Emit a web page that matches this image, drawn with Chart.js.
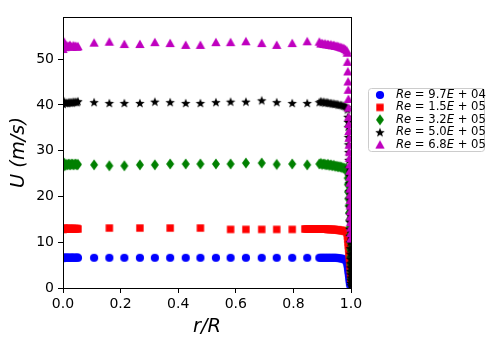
<!DOCTYPE html>
<html><head><meta charset="utf-8">
<script src="https://cdn.jsdelivr.net/npm/chart.js@4/dist/chart.umd.min.js"></script>
<style>html,body{margin:0;padding:0;background:#fff;}canvas{display:block;}</style>
</head><body>
<canvas id="c" width="500" height="340"></canvas>
<script>
// ---------- DATA ----------
const reLabels = ['9.7', '1.5', '3.2', '5.0', '6.8'];
const reExps = ['04', '05', '05', '05', '05'];
const xTicks = [0, 0.2, 0.4, 0.6, 0.8, 1.0];
const yTicks = [0, 10, 20, 30, 40, 50];

const rCenter = [0.000,0.004,0.008,0.012,0.016,0.020,0.024,0.028,0.032,0.036,0.040,0.044,0.048,0.052];
const rSparse = [0.108,0.161,0.213,0.267,0.319,0.372,0.426,0.477,0.531,0.582,0.635,0.690,0.742,0.796,0.848];
const rSparseRed = [0.161,0.267,0.372,0.477,0.582,0.635,0.690,0.742,0.796];
const rOuter = [0.890,0.895,0.900,0.905,0.910,0.915,0.920,0.925,0.930,0.935,0.940,0.945,0.950,0.955,0.960,0.965,0.970,0.975,0.980,0.985];
const rOuterRed = [0.840,0.845,0.850,0.855,0.860,0.865,0.870,0.875,0.880,0.885,0.890,0.895,0.900,0.905,0.910,0.915,0.920,0.925,0.930,0.935,0.940,0.945,0.950,0.955,0.960,0.965,0.970,0.975,0.980,0.985];

// Re = 9.7E+04 (blue)
const blueCenterU = [6.5,6.7,6.6,6.6,6.7,6.6,6.6,6.6,6.7,6.6,6.6,6.6,6.7,6.6];
const blueSparseU = [6.6,6.6,6.6,6.6,6.6,6.6,6.6,6.6,6.6,6.6,6.6,6.6,6.6,6.6,6.6];
const blueOuterU = [6.6,6.6,6.6,6.6,6.6,6.6,6.6,6.6,6.6,6.6,6.6,6.6,6.6,6.55,6.5,6.45,6.4,6.3,6.1,5.8];
const blueWallR = [0.987,0.988,0.989,0.990,0.991,0.992,0.993,0.994,0.995,0.996,0.997];
const blueWallU = [5.4,5.0,4.6,4.1,3.6,3.1,2.6,2.1,1.6,1.1,0.6];

// Re = 1.5E+05 (red)
const redCenterU = [12.8,13.1,12.9,13.0,12.9,13.0,13.0,12.9,13.0,12.9,13.0,12.9,13.0,12.9];
const redSparseU = [13.1,13.1,13.1,13.1,12.8,12.8,12.8,12.8,12.8];
const redOuterU = [12.9,12.9,12.9,12.9,12.9,12.9,12.9,12.9,12.9,12.9,12.9,12.9,12.9,12.9,12.9,12.9,12.8,12.8,12.8,12.8,12.8,12.7,12.7,12.7,12.6,12.6,12.5,12.5,12.4,12.3];
const redWallR = [0.987,0.988,0.989,0.990,0.991,0.992,0.993,0.994,0.995,0.996,0.997,0.998,0.999,1.000];
const redWallU = [12.0,11.4,10.7,10.0,9.3,8.6,7.9,7.2,6.5,5.7,4.9,4.0,3.0,2.0];

// Re = 3.2E+05 (green)
const greenCenterU = [26.4,27.3,26.8,27.0,26.9,27.1,26.9,27.0,27.1,26.9,27.0,27.1,26.9,27.0];
const greenSparseU = [26.9,26.7,26.7,26.9,26.9,27.1,27.1,27.1,27.1,27.1,27.3,27.3,27.0,27.1,26.9];
const greenOuterU = [27.1,27.2,27.0,27.1,27.0,26.9,27.0,26.8,26.9,26.7,26.8,26.6,26.6,26.5,26.5,26.4,26.3,26.2,26.1,26.0];
const greenWallR = [0.988,0.9885,0.989,0.990,0.991,0.992,0.993,0.994,0.995,0.996,0.997,0.9975,0.998,0.9985,0.999,1.000];
const greenWallU = [25.2,24.0,22.6,21.0,19.5,18.0,16.4,14.8,13.2,11.6,10.0,8.4,6.8,5.2,3.6,2.0];

// Re = 5.0E+05 (black)
const blackCenterU = [40.2,40.8,40.4,40.5,40.4,40.6,40.5,40.6,40.5,40.7,40.6,40.7,40.6,40.8];
const blackSparseU = [40.6,40.4,40.4,40.4,40.7,40.6,40.4,40.4,40.6,40.7,40.7,41.0,40.6,40.4,40.4];
const blackOuterU = [40.6,40.8,40.6,40.7,40.5,40.6,40.5,40.4,40.4,40.3,40.3,40.2,40.2,40.1,40.0,40.0,39.9,39.8,39.7,39.5];
const blackWallR = [0.988,0.989,0.990,0.9905,0.991,0.9915,0.992,0.9925,0.993,0.9935,0.994,0.9945,0.995,0.9955,0.996,0.9963,0.9966,0.9969,0.9972,0.9975,0.9978,0.9981,0.9984,0.9987,0.999,0.9992,0.9994,0.9996,0.9998,1.000];
const blackWallU = [39.0,37.4,36.3,35.2,33.0,31.4,29.7,28.0,26.3,24.6,22.9,21.2,19.5,17.8,16.1,14.5,12.9,11.4,10.0,8.7,7.5,6.4,5.4,4.5,3.7,3.0,2.3,1.7,1.1,0.6];

// Re = 6.8E+05 (magenta)
const magCenterU = [52.2,53.8,52.6,53.0,52.8,52.9,53.1,52.8,52.7,53.0,52.8,52.9,52.7,52.8];
const magSparseU = [53.6,53.8,53.3,53.3,53.7,53.5,53.1,53.1,53.7,53.7,53.9,53.5,53.1,53.5,53.9];
const magOuterU = [53.8,53.4,53.5,53.3,53.4,53.2,53.3,53.1,53.2,53.0,53.1,52.9,52.9,52.8,52.7,52.6,52.5,52.4,52.2,51.9];
const magWallR = [0.987,0.988,0.989,0.990,0.9905,0.991,0.9915,0.992,0.9925,0.993,0.9935,0.994,0.9945,0.995,0.9955,0.996,0.9963,0.9966,0.9969,0.9972,0.9975,0.9978,0.9981,0.9984,0.9987,0.999,0.9993,0.9996];
const magWallU = [51.4,49.4,47.3,45.1,43.3,41.3,39.4,37.4,35.8,34.3,32.8,31.3,29.8,28.4,27.0,25.6,24.3,23.0,21.7,20.4,19.2,18.0,16.8,15.6,14.4,13.2,12.0,10.8];

// ---------- helpers ----------
function pts(rs, us) { return rs.map((r, i) => ({x: r, y: us[i]})); }
function series(parts) { return parts.reduce((a, p) => a.concat(pts(p[0], p[1])), []); }

function marker(shape, color) {
  const c = document.createElement('canvas');
  c.width = 14; c.height = 14;
  const g = c.getContext('2d');
  g.fillStyle = color; g.strokeStyle = color; g.lineWidth = 1;
  const cx = 7, cy = 7;
  g.beginPath();
  if (shape === 'circle') {
    g.arc(cx, cy, 4.1, 0, Math.PI * 2);
  } else if (shape === 'square') {
    g.rect(cx - 3.7, cy - 3.7, 7.4, 7.4);
  } else if (shape === 'thin_diamond') {
    g.moveTo(cx, cy - 5.4); g.lineTo(cx + 4.0, cy); g.lineTo(cx, cy + 5.4); g.lineTo(cx - 4.0, cy);
    g.closePath();
  } else if (shape === 'star') {
    const R = 5.0, r = R * 0.42;
    for (let k = 0; k < 10; k++) {
      const rad = (k % 2 === 0) ? R : r;
      const a = -Math.PI / 2 + k * Math.PI / 5;
      const px = cx + rad * Math.cos(a), py = cy + 0.5 + rad * Math.sin(a);
      if (k === 0) g.moveTo(px, py); else g.lineTo(px, py);
    }
    g.closePath();
  } else if (shape === 'triangle') {
    g.moveTo(cx, cy - 4.5); g.lineTo(cx + 4.7, cy + 4.0); g.lineTo(cx - 4.7, cy + 4.0);
    g.closePath();
  }
  g.fill();
  return c;
}

const colors = ['#0000ff', '#ff0000', '#008000', '#000000', '#bf00bf'];
const shapes = ['circle', 'square', 'thin_diamond', 'star', 'triangle'];
const markers = shapes.map((s, i) => marker(s, colors[i]));

const seriesData = [
  series([[rCenter, blueCenterU], [rSparse, blueSparseU], [rOuter, blueOuterU], [blueWallR, blueWallU]]),
  series([[rCenter, redCenterU], [rSparseRed, redSparseU], [rOuterRed, redOuterU], [redWallR, redWallU]]),
  series([[rCenter, greenCenterU], [rSparse, greenSparseU], [rOuter, greenOuterU], [greenWallR, greenWallU]]),
  series([[rCenter, blackCenterU], [rSparse, blackSparseU], [rOuter, blackOuterU], [blackWallR, blackWallU]]),
  series([[rCenter, magCenterU], [rSparse, magSparseU], [rOuter, magOuterU], [magWallR, magWallU]])
];

Chart.defaults.font.family = "'DejaVu Sans', sans-serif";
Chart.defaults.color = '#000';

const datasets = seriesData.map((d, i) => ({
  label: 'Re = ' + reLabels[i] + 'E + ' + reExps[i],
  data: d,
  showLine: false,
  pointStyle: markers[i],
  pointRadius: 4,
  pointHoverRadius: 4,
  backgroundColor: colors[i],
  borderColor: colors[i],
  clip: 0,
  order: 5 - i
}));

const framePlugin = {
  id: 'frame',
  afterDatasetsDraw(chart) {
    const {ctx, chartArea: a} = chart;
    ctx.save();
    ctx.strokeStyle = '#000';
    ctx.lineWidth = 1;
    ctx.strokeRect(Math.round(a.left) + 0.5, Math.round(a.top) + 0.5,
                   Math.round(a.right - a.left), Math.round(a.bottom - a.top));
    ctx.restore();
  }
};

const legendPlugin = {
  id: 'mplLegend',
  afterDraw(chart) {
    const ctx = chart.ctx;
    const x0 = 368.5, y0 = 88.5, w = 116, h = 63, rad = 3;
    ctx.save();
    ctx.beginPath();
    ctx.moveTo(x0 + rad, y0);
    ctx.lineTo(x0 + w - rad, y0); ctx.arcTo(x0 + w, y0, x0 + w, y0 + rad, rad);
    ctx.lineTo(x0 + w, y0 + h - rad); ctx.arcTo(x0 + w, y0 + h, x0 + w - rad, y0 + h, rad);
    ctx.lineTo(x0 + rad, y0 + h); ctx.arcTo(x0, y0 + h, x0, y0 + h - rad, rad);
    ctx.lineTo(x0, y0 + rad); ctx.arcTo(x0, y0, x0 + rad, y0, rad);
    ctx.closePath();
    ctx.fillStyle = 'rgba(255,255,255,0.8)';
    ctx.fill();
    ctx.strokeStyle = '#cccccc';
    ctx.lineWidth = 1;
    ctx.stroke();
    const fs = 11.6;
    const it = 'italic ' + fs + "px 'DejaVu Sans'";
    const rg = fs + "px 'DejaVu Sans'";
    ctx.textBaseline = 'middle';
    ctx.fillStyle = '#000';
    for (let i = 0; i < 5; i++) {
      const yc = 95 + i * 12.4;
      const m = markers[i];
      ctx.drawImage(m, 380 - m.width / 2, yc - m.height / 2);
      let x = 396;
      const parts = [['Re', it], [' = ', rg], [reLabels[i], rg], ['E', it], [' + ', rg], [reExps[i], rg]];
      for (const [t, f] of parts) {
        ctx.font = f;
        ctx.fillText(t, x, yc);
        x += ctx.measureText(t).width;
      }
    }
    ctx.restore();
  }
};

new Chart(document.getElementById('c'), {
  type: 'scatter',
  data: {datasets},
  options: {
    responsive: false,
    animation: false,
    devicePixelRatio: 1,
    layout: {padding: {left: 0, right: 149, top: 17, bottom: 0}},
    plugins: {legend: {display: false}, tooltip: {enabled: false}},
    scales: {
      x: {
        type: 'linear', min: 0, max: 1,
        afterBuildTicks: s => { s.ticks = xTicks.map(v => ({value: v})); },
        afterFit: s => { s.height = 52; },
        ticks: {callback: v => Number(v).toFixed(1), font: {size: 14}, color: '#000', padding: 3, maxRotation: 0, autoSkip: false},
        grid: {drawOnChartArea: false, drawTicks: true, tickLength: 5, color: '#000', tickColor: '#000', tickWidth: 1},
        border: {display: false},
        title: {display: true, text: 'r/R', font: {size: 19.4, style: 'italic'}, color: '#000', padding: {top: 0, bottom: 1}}
      },
      y: {
        type: 'linear', min: 0, max: 59.2,
        afterBuildTicks: s => { s.ticks = yTicks.map(v => ({value: v})); },
        afterFit: s => { s.width = 63; },
        ticks: {font: {size: 14}, color: '#000', padding: 4, autoSkip: false},
        grid: {drawOnChartArea: false, drawTicks: true, tickLength: 5, color: '#000', tickColor: '#000', tickWidth: 1},
        border: {display: false},
        title: {display: true, text: 'U (m/s)', font: {size: 19.4, style: 'italic'}, color: '#000', padding: {top: 7, bottom: 0}}
      }
    }
  },
  plugins: [framePlugin, legendPlugin]
});
</script>
</body></html>
